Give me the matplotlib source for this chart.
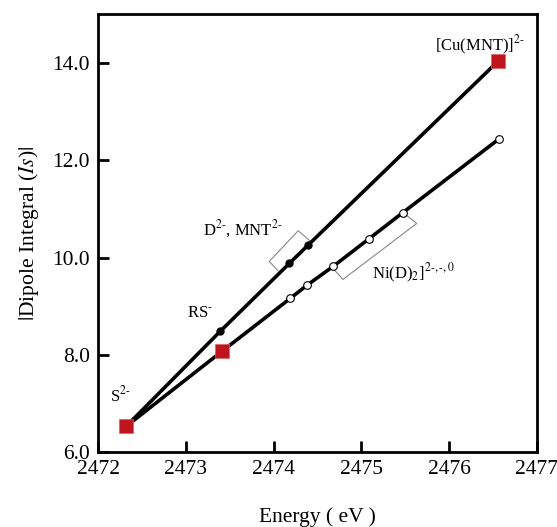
import matplotlib
matplotlib.use("Agg")
import matplotlib.pyplot as plt

# upper series: S2-, RS-, D2-/MNT2-, [Cu(MNT)]2-
upper_x = [2472.32, 2473.39, 2474.18, 2474.39, 2476.56]
upper_y = [6.53, 8.48, 9.88, 10.25, 14.04]

# lower series: S2-, second reference, Ni(D)2 series
lower_x = [2472.32, 2473.41, 2474.19, 2474.38, 2474.68, 2475.09, 2475.47, 2476.57]
lower_y = [6.53, 8.07, 9.16, 9.43, 9.82, 10.39, 10.92, 12.44]

# red square reference points
ref_x = [2472.32, 2473.41, 2476.56]
ref_y = [6.53, 8.07, 14.04]

# filled / open circles
filled_x = [2473.39, 2474.18, 2474.39]
filled_y = [8.48, 9.88, 10.25]
open_x = [2474.19, 2474.38, 2474.68, 2475.09, 2475.47, 2476.57]
open_y = [9.16, 9.43, 9.82, 10.39, 10.92, 12.44]

xticks = [2472, 2473, 2474, 2475, 2476, 2477]
yticks = [6.0, 8.0, 10.0, 12.0, 14.0]

plt.rcParams['font.family'] = ['Liberation Serif', 'DejaVu Serif']
plt.rcParams['mathtext.fontset'] = 'stix'

fig = plt.figure(figsize=(5.57, 5.27), dpi=100)
ax = fig.add_axes([0.176, 0.142, 0.788, 0.831])

red = '#c0141c'
ax.plot(upper_x, upper_y, color='black', lw=2.6, zorder=2)
ax.plot(lower_x, lower_y, color='black', lw=2.6, zorder=2)
ax.plot(filled_x, filled_y, 'o', color='black', ms=5, zorder=3)
ax.plot(open_x, open_y, 'o', mfc='white', mec='black', mew=0.8, ms=5.5, zorder=3)
ax.plot(ref_x, ref_y, 's', color=red, mec='#e06060', mew=0.5, ms=9.5, zorder=4)

# brackets
ax.plot([2474.05, 2473.95, 2474.28, 2474.41], [9.73, 9.92, 10.55, 10.35],
        color='#888888', lw=0.8, zorder=1)
ax.plot([2474.68, 2474.79, 2475.63, 2475.52], [9.77, 9.55, 10.70, 10.86],
        color='#888888', lw=0.8, zorder=1)

ax.text(2476.35, 14.35, r'[Cu(MNT)]$^{2\text{-}}$', fontsize=12, ha='center', va='center')
ax.text(2473.65, 10.58, r'D$^{2\text{-}}$, MNT$^{2\text{-}}$', fontsize=12, ha='center', va='center')
ax.text(2473.16, 8.85, r'RS$^{\text{-}}$', fontsize=12, ha='center', va='center')
ax.text(2472.25, 7.17, r'S$^{2\text{-}}$', fontsize=12, ha='center', va='center')
ax.text(2475.12, 9.67, r'Ni(D)$_2$]$^{2\text{-},\text{-},0}$', fontsize=12, ha='left', va='center')

ax.set_xlim(2472, 2477)
ax.set_ylim(6.0, 15.0)
ax.set_xticks(xticks)
ax.set_yticks(yticks)
ax.set_yticklabels([f"{v:.1f}" for v in yticks])
ax.tick_params(direction='in', length=8, width=2, labelsize=15.5, pad=6,
               top=False, right=False)
for s in ax.spines.values():
    s.set_linewidth(2)

ax.set_xlabel('Energy ( eV )', fontsize=15.5, labelpad=20)
ax.set_ylabel(r'$|$Dipole Integral ($Is$)$|$', fontsize=15.5, labelpad=8)

fig.savefig('out.png', dpi=100)
